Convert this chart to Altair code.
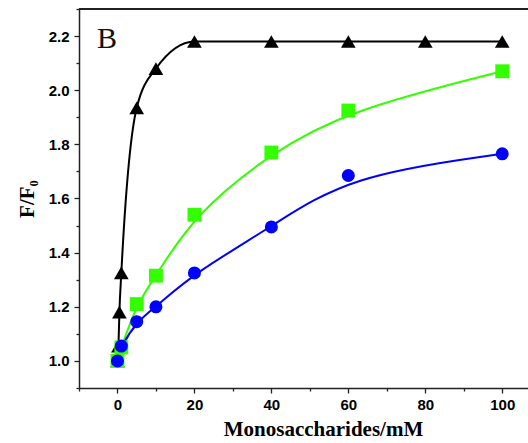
import altair as alt
import pandas as pd

# Titration data: relative fluorescence F/F0 versus monosaccharide concentration (mM)
conc_tri = [0, 0.25, 0.5, 1, 5, 10, 20, 40, 60, 80, 100]
ratio_tri = [1.00, 1.055, 1.18, 1.325, 1.935, 2.08, 2.18, 2.18, 2.18, 2.18, 2.18]

conc_sq = [0, 1, 5, 10, 20, 40, 60, 100]
ratio_sq = [1.00, 1.05, 1.21, 1.315, 1.54, 1.77, 1.925, 2.07]

conc_circ = [0, 1, 5, 10, 20, 40, 60, 100]
ratio_circ = [1.00, 1.055, 1.145, 1.20, 1.325, 1.495, 1.685, 1.765]

series_names = ["tri", "sq", "circ"]
series_colors = ["#000000", "#33ff00", "#0000ff"]
series_shapes = ["triangle-up", "square", "circle"]
series_sizes = [215, 170, 205]

x_major = [0, 20, 40, 60, 80, 100]
x_minor = [-10, 10, 30, 50, 70, 90]
y_major = [1.0, 1.2, 1.4, 1.6, 1.8, 2.0, 2.2]
y_minor = [0.9, 1.1, 1.3, 1.5, 1.7, 1.9, 2.1, 2.3]

frames = []
for name, xs, ys in [("tri", conc_tri, ratio_tri), ("sq", conc_sq, ratio_sq), ("circ", conc_circ, ratio_circ)]:
    frames.append(pd.DataFrame({"conc": xs, "ratio": ys, "series": name}))
df = pd.concat(frames, ignore_index=True)
df["idx"] = range(len(df))

W, H = 449, 379

x_scale = alt.Scale(domain=[-10, 106.7], nice=False, zero=False)
y_scale = alt.Scale(domain=[0.9, 2.3], nice=False, zero=False)
color = alt.Color("series:N", scale=alt.Scale(domain=series_names, range=series_colors), legend=None)

tick_font = dict(labelFont="Liberation Sans", labelFontSize=15, labelFontWeight="bold",
                 labelColor="#000000")
axis_line = dict(domainColor="#222222", domainWidth=1.5, tickColor="#222222", tickWidth=1.3)

base = alt.Chart(df)

# steep saturating series: monotone curve through its points
line_tri = base.transform_filter(alt.datum.series == "tri").mark_line(
    strokeWidth=2, interpolate="monotone"
).encode(
    x=alt.X("conc:Q", scale=x_scale,
            axis=alt.Axis(orient="bottom", values=x_major, format="d", tickSize=5, labelPadding=4,
                          title="Monosaccharides/mM", titleFont="Liberation Serif",
                          titleFontSize=21, titleFontWeight="bold", titleColor="#000000",
                          titleX=244, titleY=47, titleBaseline="alphabetic", titleAlign="center",
                          grid=False, **tick_font, **axis_line)),
    y=alt.Y("ratio:Q", scale=y_scale,
            axis=alt.Axis(orient="left", values=y_major, format=".1f", tickSize=5, labelPadding=5,
                          title="F/F₀", titleFont="Liberation Serif", titleFontSize=21,
                          titleFontWeight="bold", titleColor="#000000", titleAngle=-90,
                          titleX=-46, titleY=H / 2, titleBaseline="alphabetic", titleAlign="center",
                          grid=False, **tick_font, **axis_line)),
    color=color,
)

# gradual series: smoothed spline
line_smooth = base.transform_filter(alt.datum.series != "tri").mark_line(
    strokeWidth=2, interpolate="basis"
).encode(
    x=alt.X("conc:Q", scale=x_scale, axis=None),
    y=alt.Y("ratio:Q", scale=y_scale, axis=None),
    color=color,
)

points = base.mark_point(filled=True, opacity=1, strokeWidth=0).encode(
    x=alt.X("conc:Q", scale=x_scale,
            axis=alt.Axis(orient="bottom", values=x_minor, labels=False, domain=False, tickSize=3,
                          title=None, grid=False, tickColor="#222222", tickWidth=1.3)),
    y=alt.Y("ratio:Q", scale=y_scale,
            axis=alt.Axis(orient="left", values=y_minor, labels=False, domain=False, tickSize=3,
                          title=None, grid=False, tickColor="#222222", tickWidth=1.3)),
    color=color,
    shape=alt.Shape("series:N", scale=alt.Scale(domain=series_names, range=series_shapes), legend=None),
    size=alt.Size("series:N", scale=alt.Scale(domain=series_names, range=series_sizes), legend=None),
    order=alt.Order("idx:Q"),
)

# upper frame line
top_edge = alt.Chart(df).mark_rule(color="#222222", strokeWidth=1.5).encode(
    x=alt.value(0), x2=alt.value(W + 2), y=alt.value(0)
)

panel_label = alt.Chart(pd.DataFrame({"t": ["B"]})).mark_text(
    font="Liberation Serif", fontSize=30, align="center", baseline="alphabetic", color="#111111"
).encode(text="t:N", x=alt.value(28), y=alt.value(39))

chart = alt.layer(line_tri, line_smooth, points, top_edge, panel_label).resolve_axis(
    x="independent", y="independent"
).properties(
    width=W, height=H,
    autosize=alt.AutoSizeParams(type="none"),
    padding={"left": 79, "top": 9, "right": 0, "bottom": 55},
).configure_view(stroke=None).configure(background="white")

chart.save("out.html", embed_options={"renderer": "svg", "actions": False})
